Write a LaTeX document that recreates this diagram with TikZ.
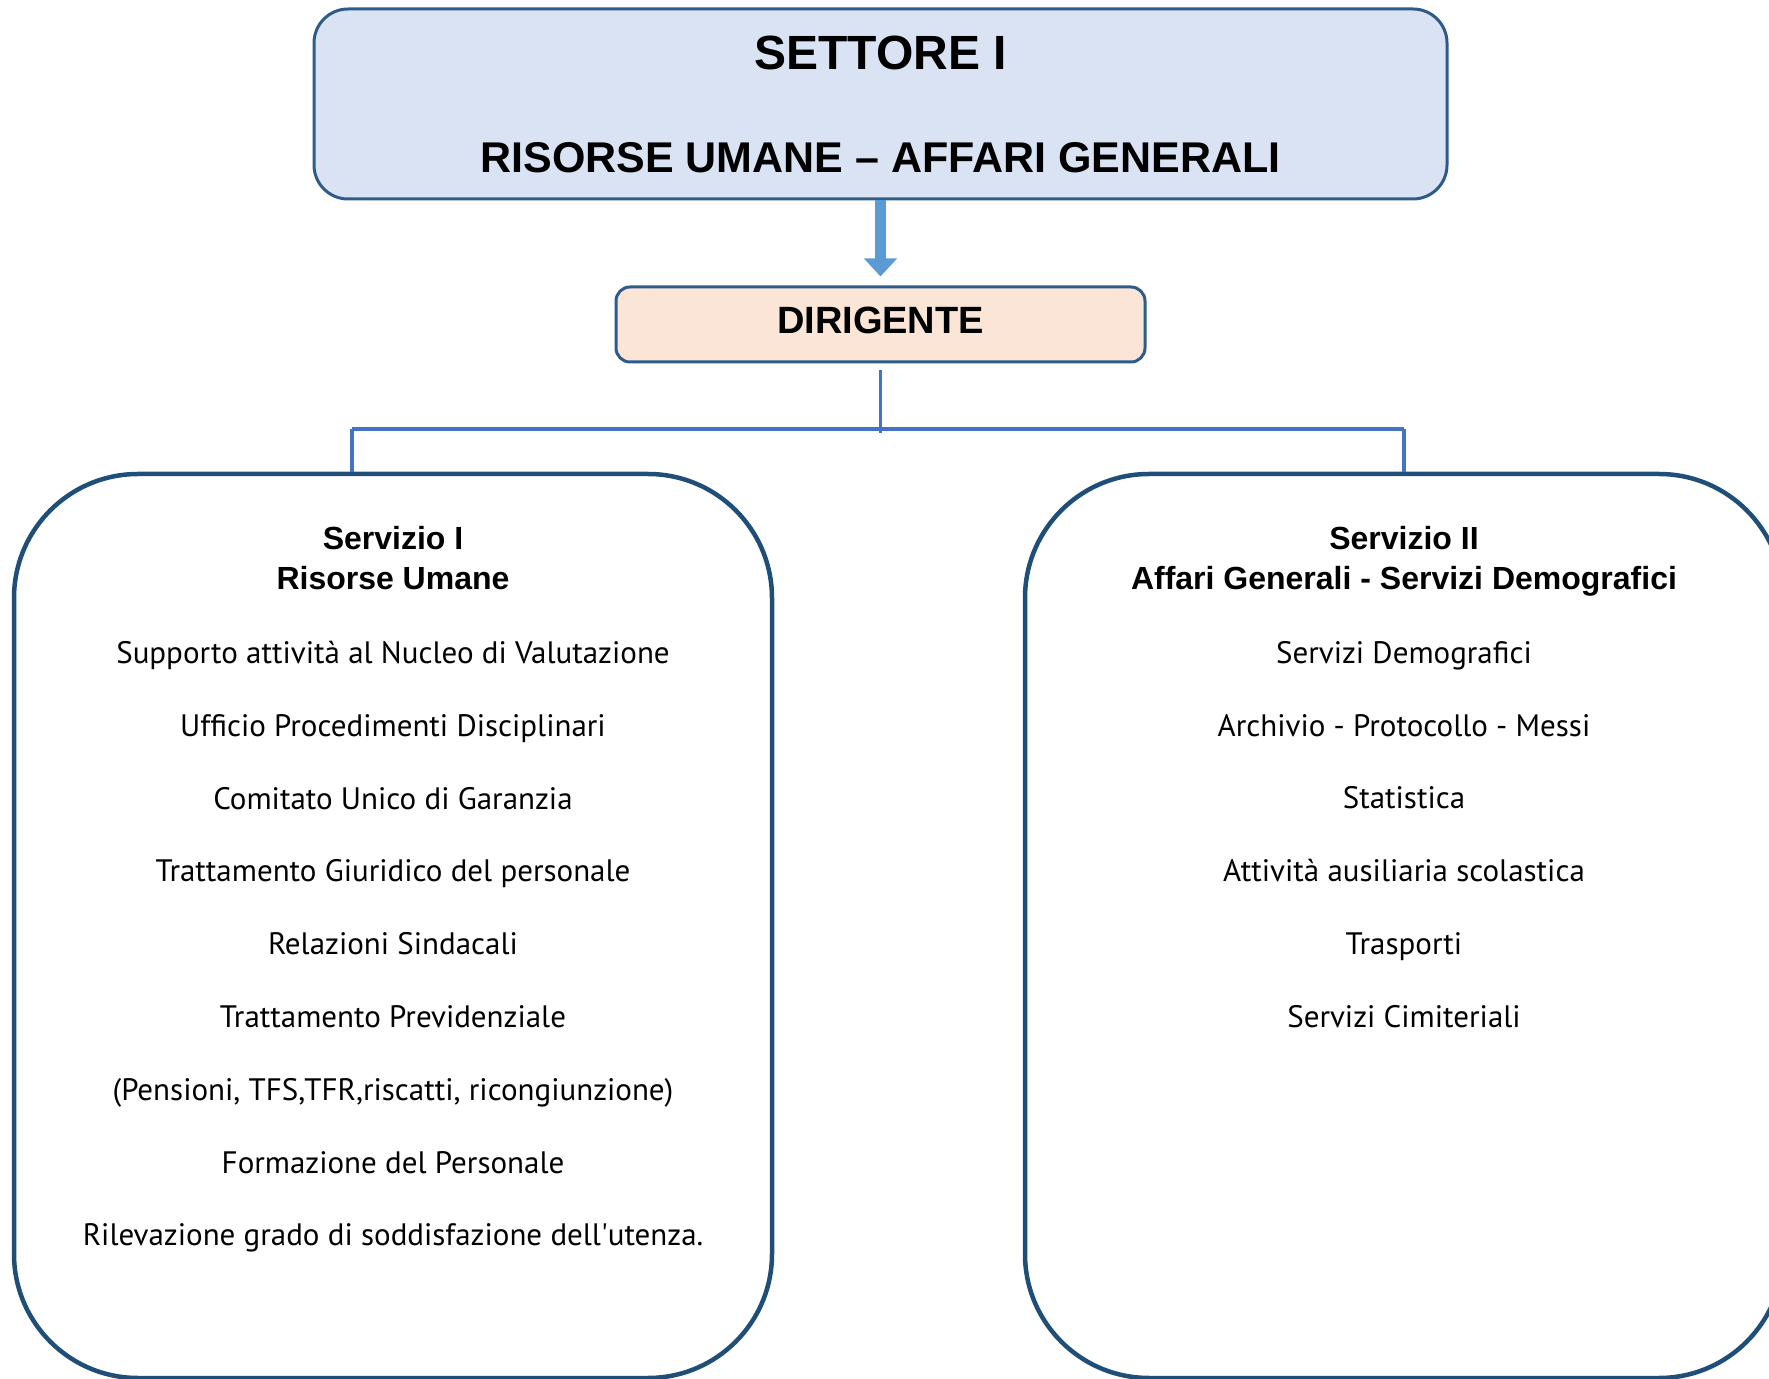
\documentclass[tikz,border=0pt]{standalone}
\usepackage{fontspec}
\setmainfont{Liberation Sans}
\newfontfamily\itemfont{PT Sans}
\usetikzlibrary{positioning,arrows.meta}
\definecolor{topfill}{HTML}{DAE3F3}
\definecolor{dirfill}{HTML}{FBE5D6}
\definecolor{edgeblue}{HTML}{2E5C8A}
\definecolor{servline}{HTML}{1F4E79}
\definecolor{linkblue}{HTML}{4472C4}
\definecolor{arrowblue}{HTML}{5B9BD5}

\begin{document}
\begin{tikzpicture}[x=0.5pt, y=-0.5pt,
    settore/.style = {draw=edgeblue, line width=1.5pt, fill=topfill, rounded corners=17pt, minimum width=566.5pt, minimum height=95pt, align=center, font=\bfseries\fontsize{21.5}{26}\selectfont},
    dirbox/.style = {draw=edgeblue, line width=1.5pt, fill=dirfill, rounded corners=7pt, minimum width=264.5pt, minimum height=37.5pt, text depth=4.5pt, font=\bfseries\fontsize{19}{23}\selectfont},
    servbox/.style = {draw=servline, line width=2.25pt, rounded corners=62pt, minimum width=379pt, minimum height=452pt},
    servhead/.style = {align=center, inner sep=0pt, font=\bfseries\fontsize{16}{20}\selectfont},
    servlist/.style = {align=center, inner sep=0pt, font=\itemfont\fontsize{15.5}{36.4}\selectfont},
    link/.style = {draw=linkblue, line width=1.6pt},
    bigarrow/.style = {draw=arrowblue, line width=5.5pt, -{Triangle[width=16pt, length=9pt]}}]
  \useasboundingbox (0,0) rectangle (1769,1379);
  \clip (0,0) rectangle (1769,1379);

  \node[settore] (settore) at (880.5,104) {{\fontsize{24}{26}\selectfont SETTORE I}\\[25.5pt]RISORSE UMANE -- AFFARI GENERALI};
  \node[dirbox] (dir) at (880.5,324.5) {DIRIGENTE};

  \node[servbox] (s1) at (393,926) {};
  \node[servbox] (s2) at (1404,926) {};

  % titoli dei servizi
  \node[servhead, below=27pt of s1.north] (h1) {Servizio I\\Risorse Umane};
  \node[servhead, below=27pt of s2.north] (h2) {Servizio II\\Affari Generali - Servizi Demografici};

  % attivita
  \node[servlist, anchor=north] (l1) at ([yshift=-84.5pt]s1.north) {Supporto attività al Nucleo di Valutazione\\
    Ufficio Procedimenti Disciplinari\\
    Comitato Unico di Garanzia\\
    Trattamento Giuridico del personale\\
    Relazioni Sindacali\\
    Trattamento Previdenziale\\
    (Pensioni, TFS,TFR,riscatti, ricongiunzione)\\
    Formazione del Personale\\
    Rilevazione grado di soddisfazione dell\textquotesingle utenza.};
  \node[servlist, anchor=north] (l2) at ([yshift=-84.5pt]s2.north) {Servizi Demografici\\
    Archivio - Protocollo - Messi\\
    Statistica\\
    Attività ausiliaria scolastica\\
    Trasporti\\
    Servizi Cimiteriali};

  % collegamenti
  \draw[bigarrow, shorten >=4.5pt] (settore.south) -- (dir.north);
  \coordinate (jl) at (352,429);
  \coordinate (jr) at (1404,429);
  \draw[link] ([yshift=-3.5pt]dir.south) -- ++(0,63);
  \draw[link] (jl) -- (jr);
  \draw[link] (jl) -- (jl |- s1.north);
  \draw[link] (jr) -- (s2.north);
\end{tikzpicture}
\end{document}
